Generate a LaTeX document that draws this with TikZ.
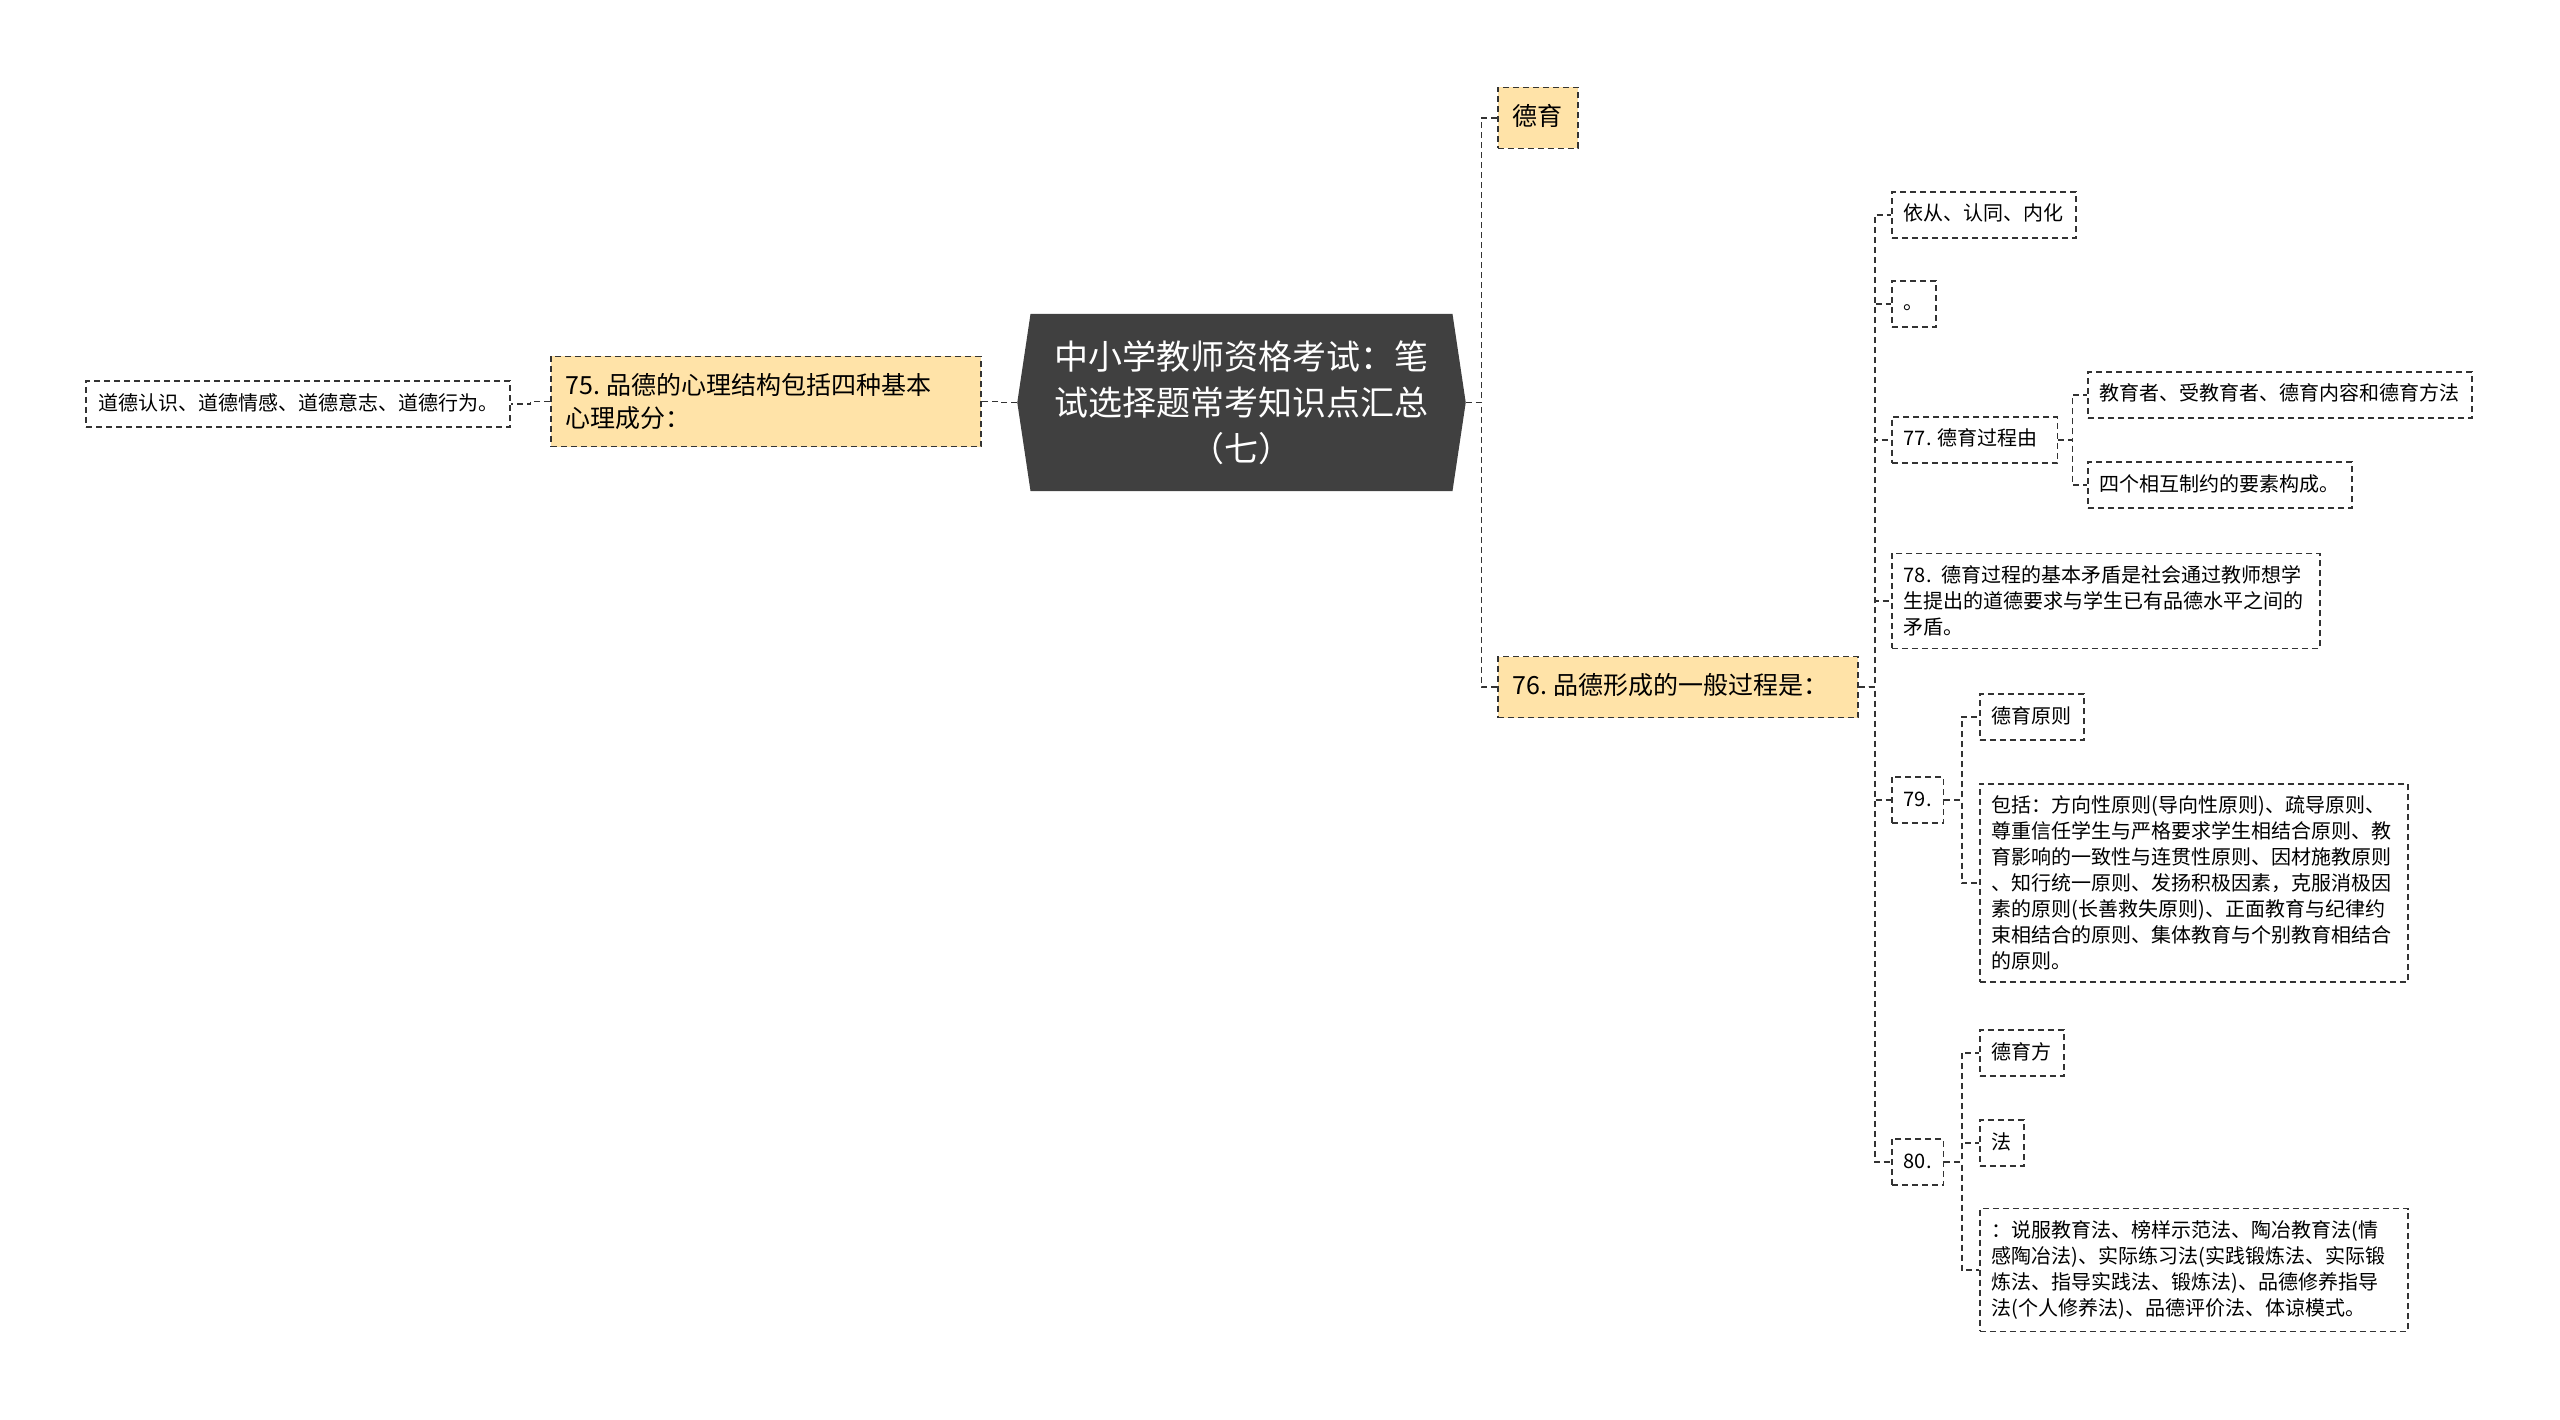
\documentclass[tikz,border=0pt]{standalone}
\usepackage{fontspec}
\setmainfont{Noto Sans CJK SC}
\usetikzlibrary{positioning,shapes.symbols,calc}
\definecolor{colroot}{HTML}{404040}
\definecolor{colmain}{HTML}{FFE3A8}
\definecolor{colline}{HTML}{333333}

\tikzset{
    box/.style={draw=colline, line width=1.6pt, dash pattern=on 6pt off 4pt,
        inner xsep=12pt, inner ysep=12pt, font=\fontsize{20}{26}\selectfont},
    leaf/.style={box, text height=17pt, text depth=5pt, anchor=west},
    para/.style={box, text width=404pt, align=left, anchor=west},
    main/.style={box, fill=colmain, inner xsep=15pt, inner ysep=17pt,
        font=\fontsize{25}{33}\selectfont, anchor=west},
    mainone/.style={main, text height=21pt, text depth=6pt},
    link/.style={draw=colline, line width=1.6pt, dash pattern=on 6pt off 4pt},
}
\newcommand{\conn}[2]{\draw[link] (#1.east) -| ($(#1.east)!.5!(#2.west)$) |- (#2.west);}
\newcommand{\connleft}[2]{\draw[link] (#1.west) -| ($(#1.west)!.5!(#2.east)$) |- (#2.east);}

\begin{document}
\begin{tikzpicture}[x=1pt, y=-1pt]
    \fill[white] (0,0) rectangle (2560,1420);
    \useasboundingbox (0,0) rectangle (2560,1420);

    % centre
    \node[shape=signal, signal to=west and east, signal pointer angle=163,
        fill=colroot, text=white, text width=384pt, align=center,
        minimum height=177pt, inner xsep=19pt,
        font=\fontsize{34}{46}\selectfont] (root) at (1241.5,402.5)
        {中小学教师资格考试：笔\\试选择题常考知识点汇总\\（七）};

    % left side
    \node[main, text width=400pt, align=left] (p75) at (550,401.5)
        {75.\kern6pt 品德的心理结构包括四种基本\\心理成分：};
    \node[leaf, anchor=east] (p75a) at (511,404) {道德认识、道德情感、道德意志、道德行为。};

    % right side
    \node[mainone] (deyu) at (1497,118) {德育};
    \node[mainone, text width=330pt, align=left] (p76) at (1497,687) {76.\kern6pt 品德形成的一般过程是：};

    \node[leaf] (yicong) at (1891,215) {依从、认同、内化};
    \node[leaf] (juhao) at (1891,304) {。};
    \node[leaf] (p77) at (1891,440) {77. 德育过程由\kern8pt};
    \node[para] (p78) at (1891,601)
        {78. 德育过程的基本矛盾是社会通过教师想学\\生提出的道德要求与学生已有品德水平之间的\\矛盾。};
    \node[leaf] (p79) at (1891,800) {79.};
    \node[leaf] (p80) at (1891,1162) {80.};

    \node[leaf] (p77a) at (2087,395) {教育者、受教育者、德育内容和德育方法};
    \node[leaf] (p77b) at (2087,485) {四个相互制约的要素构成。};

    \node[leaf] (p79a) at (1979,717) {德育原则};
    \node[para] (p79b) at (1979,883)
        {包括：方向性原则(导向性原则)、疏导原则、\\尊重信任学生与严格要求学生相结合原则、教\\育影响的一致性与连贯性原则、因材施教原则\\、知行统一原则、发扬积极因素，克服消极因\\素的原则(长善救失原则)、正面教育与纪律约\\束相结合的原则、集体教育与个别教育相结合\\的原则。};

    \node[leaf] (p80a) at (1979,1053) {德育方};
    \node[leaf] (p80b) at (1979,1143) {法};
    \node[para] (p80c) at (1979,1270)
        {：说服教育法、榜样示范法、陶冶教育法(情\\感陶冶法)、实际练习法(实践锻炼法、实际锻\\炼法、指导实践法、锻炼法)、品德修养指导\\法(个人修养法)、品德评价法、体谅模式。};

    % links
    \connleft{root}{p75}
    \connleft{p75}{p75a}
    \conn{root}{deyu}
    \conn{root}{p76}
    \foreach \c in {yicong,juhao,p77,p78,p79,p80}{
        \conn{p76}{\c}
    }
    \conn{p77}{p77a}
    \conn{p77}{p77b}
    \conn{p79}{p79a}
    \conn{p79}{p79b}
    \foreach \c in {p80a,p80b,p80c}{
        \conn{p80}{\c}
    }
\end{tikzpicture}
\end{document}
